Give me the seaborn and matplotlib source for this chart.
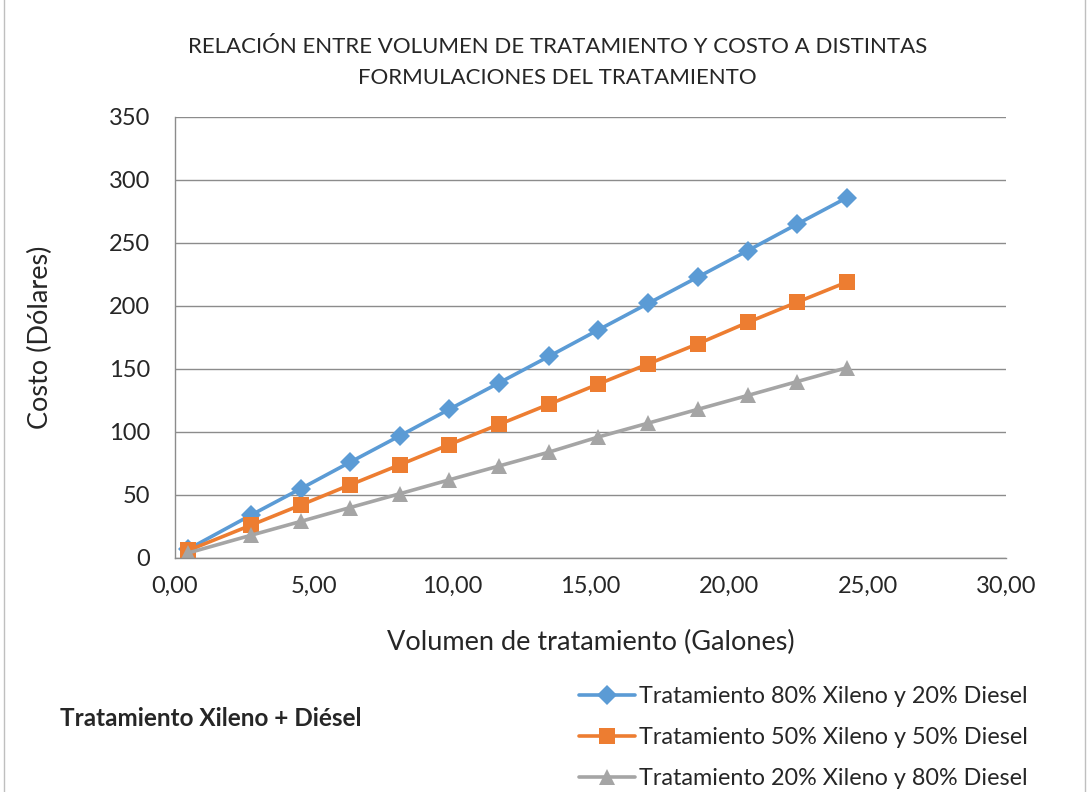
import matplotlib
matplotlib.use("Agg")
import matplotlib.pyplot as plt
import matplotlib.patches as mpatches
import pandas as pd
import seaborn as sns

# volumen de tratamiento (galones)
volumen = [0.48, 2.74, 4.54, 6.32, 8.12, 9.90, 11.70, 13.50, 15.28, 17.08, 18.88, 20.68, 22.46, 24.26]
costo_80_20 = [7, 34, 55, 76, 97, 118, 139, 160, 181, 202, 223, 244, 265, 286]
costo_50_50 = [6, 26, 42, 58, 74, 90, 106, 122, 138, 154, 170, 187, 203, 219]
costo_20_80 = [4, 18, 29, 40, 51, 62, 73, 84, 96, 107, 118, 129, 140, 151]

series = ["Tratamiento 80% Xileno y 20% Diesel",
          "Tratamiento 50% Xileno y 50% Diesel",
          "Tratamiento 20% Xileno y 80% Diesel"]
colores = ["#5B9BD5", "#ED7D31", "#A5A5A5"]
marcadores = ["D", "s", "^"]
tamanos = [10, 12, 11]

df = pd.concat([
    pd.DataFrame({"vol": volumen, "costo": c, "serie": s})
    for c, s in zip([costo_80_20, costo_50_50, costo_20_80], series)
])

sns.set_style("white")
plt.rcParams["font.family"] = ["Lato", "DejaVu Sans"]

fig = plt.figure(figsize=(10.89, 7.92), dpi=100)
ax = fig.add_axes([0.1607, 0.2955, 0.7631, 0.5568])

for s, c, m, ms in zip(series, colores, marcadores, tamanos):
    sns.lineplot(data=df[df["serie"] == s], x="vol", y="costo", color=c, marker=m,
                 linewidth=2.6, markersize=ms, markeredgewidth=0, ax=ax, legend=False)

ax.set_xlim(0, 30)
ax.set_ylim(0, 350)
ax.set_xticks(range(0, 31, 5))
ax.set_xticklabels([f"{v},00" for v in range(0, 31, 5)], fontsize=17)
ax.set_yticks(range(0, 351, 50))
ax.set_yticklabels([str(v) for v in range(0, 351, 50)], fontsize=17)
ax.grid(axis="y", color="#8C8C8C", linewidth=1)
ax.grid(axis="x", visible=False)
for side in ["top", "right"]:
    ax.spines[side].set_visible(False)
for side in ["left", "bottom"]:
    ax.spines[side].set_color("#8C8C8C")
    ax.spines[side].set_linewidth(1)
ax.tick_params(axis="y", direction="out", length=7, color="#8C8C8C", width=1, pad=11)
ax.tick_params(axis="x", direction="out", length=6, color="#8C8C8C", width=1, pad=7)
ax.set_axisbelow(True)

ax.set_xlabel("Volumen de tratamiento (Galones)", fontsize=19.5, labelpad=24)
ax.set_ylabel("Costo (Dólares)", fontsize=19.5, labelpad=40)

fig.text(0.512, 0.921, "RELACIÓN ENTRE VOLUMEN DE TRATAMIENTO Y COSTO A DISTINTAS\nFORMULACIONES DEL TRATAMIENTO",
         ha="center", va="center", fontsize=16, linespacing=1.7)

fig.text(0.055, 0.093, "Tratamiento Xileno + Diésel", fontsize=17.5, fontweight="bold", va="center")

handles = [plt.Line2D([], [], color=c, marker=m, linewidth=2.6, markersize=ms, markeredgewidth=0)
           for c, m, ms in zip(colores, marcadores, tamanos)]
fig.legend(handles, series, loc="center left", bbox_to_anchor=(0.512, 0.069),
           frameon=False, fontsize=16.8, handlelength=2.4, handletextpad=0.2,
           labelspacing=0.85)

fig.patches.append(mpatches.Rectangle((0.004, -0.01), 0.992, 1.02, transform=fig.transFigure,
                                      fill=False, edgecolor="#BFBFBF", linewidth=1))

fig.savefig("out.png", dpi=100)
